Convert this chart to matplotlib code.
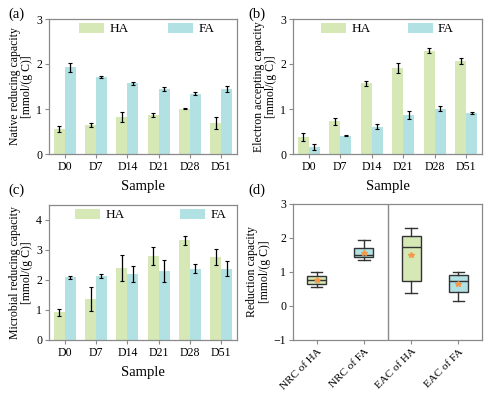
import numpy as np
import matplotlib
matplotlib.use("Agg")
import matplotlib.pyplot as plt

plt.rcParams['font.family'] = ['Liberation Serif', 'DejaVu Serif']

# data
samples = ["D0", "D7", "D14", "D21", "D28", "D51"]

nrc_ha = [0.55, 0.65, 0.82, 0.87, 1.01, 0.69]
nrc_ha_err = [0.07, 0.04, 0.11, 0.04, 0.015, 0.13]
nrc_fa = [1.93, 1.72, 1.57, 1.44, 1.34, 1.44]
nrc_fa_err = [0.10, 0.02, 0.03, 0.05, 0.03, 0.07]

eac_ha = [0.38, 0.73, 1.57, 1.92, 2.30, 2.07]
eac_ha_err = [0.09, 0.08, 0.06, 0.11, 0.06, 0.07]
eac_fa = [0.16, 0.41, 0.61, 0.86, 1.01, 0.92]
eac_fa_err = [0.06, 0.015, 0.06, 0.09, 0.06, 0.02]

mrc_ha = [0.93, 1.37, 2.41, 2.80, 3.33, 2.77]
mrc_ha_err = [0.12, 0.40, 0.43, 0.30, 0.15, 0.27]
mrc_fa = [2.10, 2.14, 2.20, 2.31, 2.37, 2.37]
mrc_fa_err = [0.05, 0.06, 0.27, 0.37, 0.15, 0.25]

box_labels = ["NRC of HA", "NRC of FA", "EAC of HA", "EAC of FA"]

green = "#d5e8b6"
blue = "#b2e1e4"
spine_c = "#8a8a8a"

W, H = 490, 395
fig = plt.figure(figsize=(W / 100, H / 100), dpi=100)


def px_axes(x0, x1, y0, y1):
    return fig.add_axes([x0 / W, 1 - y1 / H, (x1 - x0) / W, (y1 - y0) / H])


def style(ax):
    for s in ax.spines.values():
        s.set_color(spine_c)
        s.set_linewidth(0.9)
    ax.tick_params(direction='out', length=3, width=0.8, color=spine_c,
                   labelsize=8.5, pad=2)


def bar_panel(ax, ha, ha_err, fa, fa_err, ylim, ylabel, colsp, lx):
    x = np.arange(len(samples))
    w = 0.35
    ekw = dict(ecolor='black', elinewidth=0.9, capsize=1.5, capthick=0.8)
    ax.bar(x - w / 2, ha, w, color=green, label="HA", yerr=ha_err, error_kw=ekw)
    ax.bar(x + w / 2, fa, w, color=blue, label="FA", yerr=fa_err, error_kw=ekw)
    ax.set_xlim(-0.5, 5.5)
    ax.set_ylim(*ylim)
    ax.set_xticks(x)
    ax.set_xticklabels(samples)
    ax.set_xlabel("Sample", fontsize=10.5, labelpad=5)
    ax.set_ylabel(ylabel, fontsize=8.5, linespacing=1.05, labelpad=2)
    style(ax)
    ax.legend(loc='center', bbox_to_anchor=(lx, 0.925), ncol=2, frameon=False,
              fontsize=9.5, handlelength=1.9, handleheight=0.8,
              columnspacing=colsp, handletextpad=0.4)


ax_a = px_axes(49, 237, 19, 154)
bar_panel(ax_a, nrc_ha, nrc_ha_err, nrc_fa, nrc_fa_err, (0, 3),
          "Native reducing capacity\n[mmol/(g C)]", 3.0, 0.52)
ax_a.set_yticks([0, 1, 2, 3])

ax_b = px_axes(293, 482, 19, 154)
bar_panel(ax_b, eac_ha, eac_ha_err, eac_fa, eac_fa_err, (0, 3),
          "Electron accepting capacity\n[mmol/(g C)]", 2.8, 0.5)
ax_b.set_yticks([0, 1, 2, 3])

ax_c = px_axes(49, 237, 205, 340)
bar_panel(ax_c, mrc_ha, mrc_ha_err, mrc_fa, mrc_fa_err, (0, 4.5),
          "Microbial reducing capacity\n[mmol/(g C)]", 4.2, 0.54)
ax_c.set_yticks([0, 1, 2, 3, 4])

# (d) box plot, Tukey hinges
ax_d = px_axes(293, 482, 204, 340)
groups = [nrc_ha, nrc_fa, eac_ha, eac_fa]
stats = []
for g in groups:
    v = np.sort(g)
    n = len(v)
    lo, hi = v[: (n + 1) // 2], v[n // 2:]
    stats.append(dict(med=np.median(v), q1=np.median(lo), q3=np.median(hi),
                      whislo=v.min(), whishi=v.max(), mean=np.mean(v), fliers=[]))
bp = ax_d.bxp(stats, positions=[1, 2, 3, 4], widths=0.4, patch_artist=True,
              showmeans=True, showfliers=False,
              boxprops=dict(edgecolor='#333333', linewidth=1.0),
              medianprops=dict(color='#333333', linewidth=1.0),
              whiskerprops=dict(color='#333333', linewidth=1.0),
              capprops=dict(color='#333333', linewidth=1.0),
              meanprops=dict(marker='*', markerfacecolor='#f39a4a',
                             markeredgecolor='#f39a4a', markersize=4))
for patch, c in zip(bp['boxes'], [green, blue, green, blue]):
    patch.set_facecolor(c)
for cap in bp['caps']:
    xs = cap.get_xdata()
    m = np.mean(xs)
    cap.set_xdata([m - 0.12, m + 0.12])
ax_d.axvline(2.5, color=spine_c, linewidth=1.0)
ax_d.set_xlim(0.5, 4.5)
ax_d.set_ylim(-1, 3)
ax_d.set_yticks([-1, 0, 1, 2, 3])
ax_d.set_xticks([1, 2, 3, 4])
style(ax_d)
ax_d.set_xticklabels(box_labels, rotation=45, ha='right', rotation_mode='anchor',
                     fontsize=8)
ax_d.set_ylabel("Reduction capacity\n[mmol/(g C)]", fontsize=8.5,
                linespacing=1.05, labelpad=2)

for lab, x, y in [("(a)", 8, 14), ("(b)", 248, 14), ("(c)", 8, 190), ("(d)", 248, 190)]:
    fig.text(x / W, 1 - y / H, lab, fontsize=10.5, va='center', ha='left')

fig.savefig("out.png", dpi=100)
